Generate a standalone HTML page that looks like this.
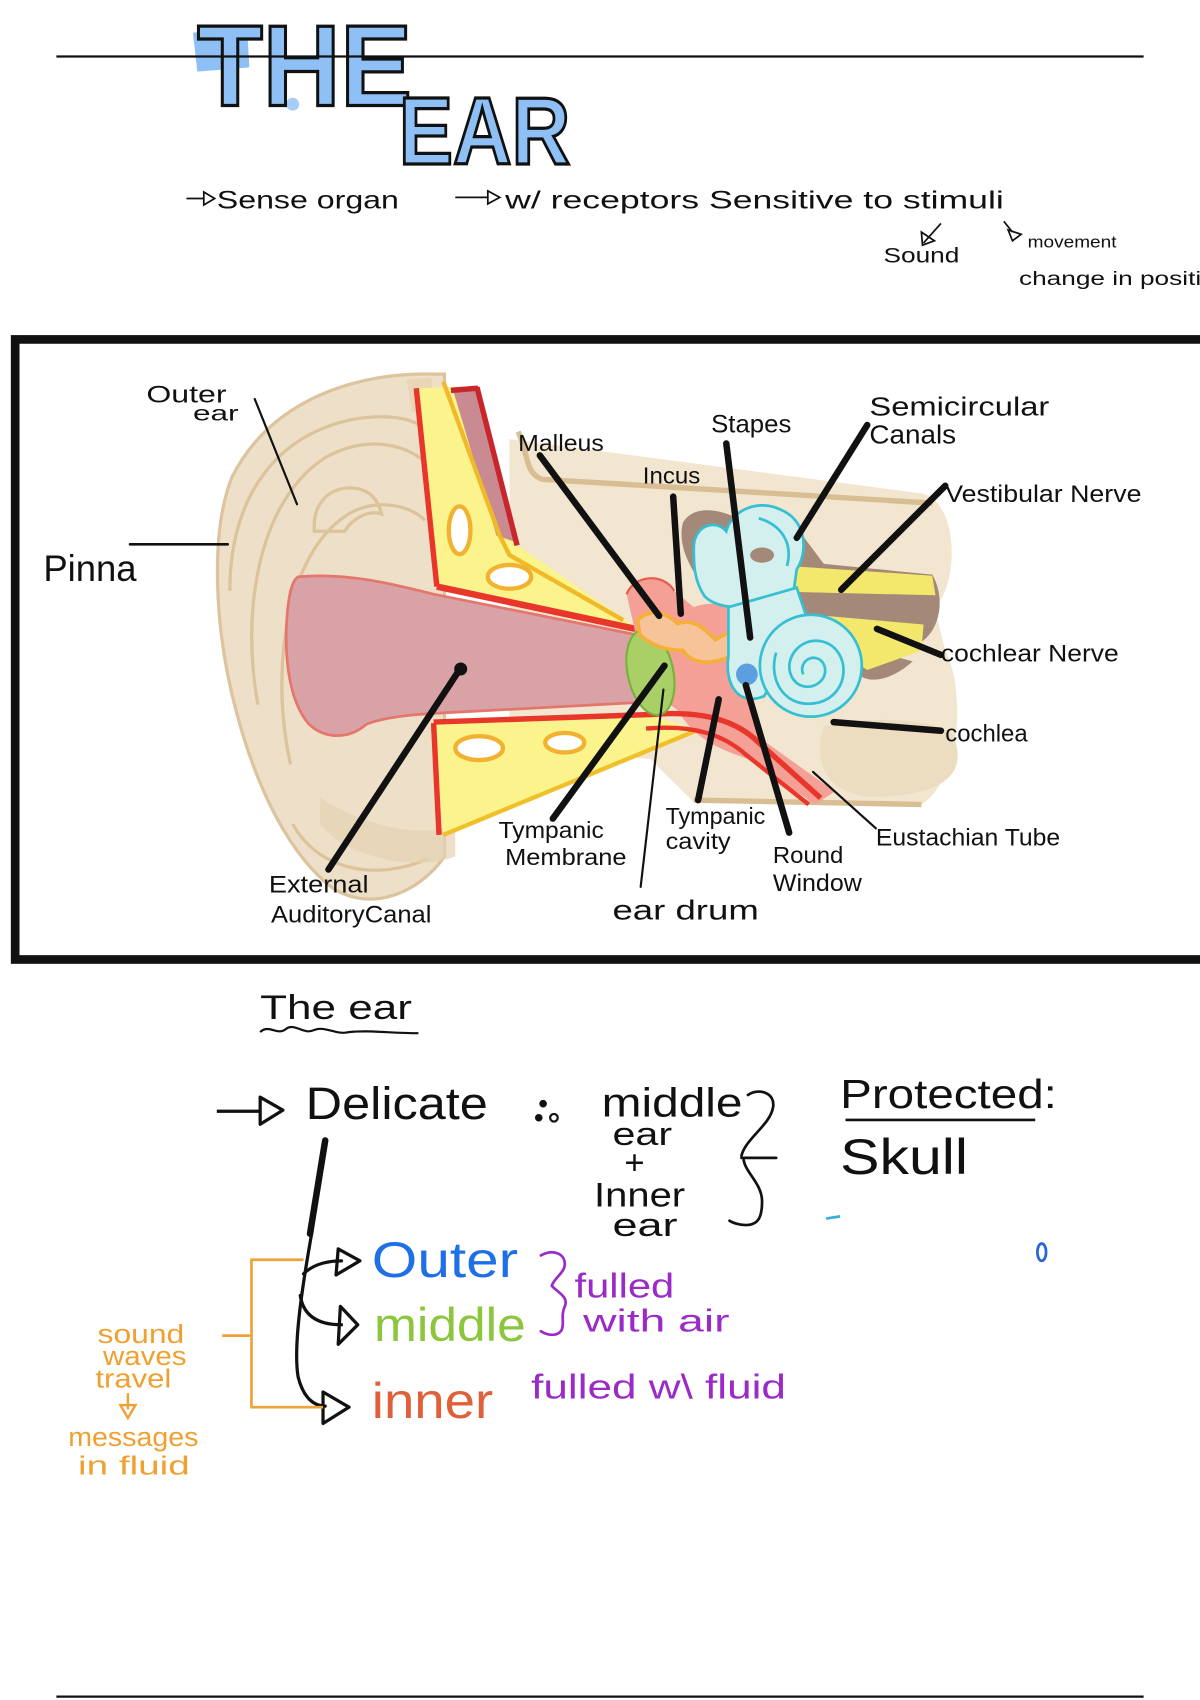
<!DOCTYPE html>
<html><head><meta charset="utf-8"><style>
html,body{margin:0;padding:0;background:#fff;}
svg{display:block;}
text{font-family:"Liberation Sans",sans-serif;}
</style></head><body>
<svg width="1200" height="1700" viewBox="0 0 1107 1568" xmlns="http://www.w3.org/2000/svg">
<rect width="1107" height="1568" fill="#fff"/>

<!-- TITLE -->
<path d="M178,30 L228,26 L230,62 L182,66 Z" fill="#8fc0f5"/>
<ellipse cx="270" cy="96" rx="6" ry="6" fill="#8fc0f5" opacity="0.8"/>
<text x="182" y="97" font-size="106" font-weight="bold" textLength="198" lengthAdjust="spacingAndGlyphs" fill="#8fc0f5" stroke="#111" stroke-width="3">THE</text>
<text x="368" y="151" font-size="88" font-weight="bold" textLength="158" lengthAdjust="spacingAndGlyphs" fill="#8fc0f5" stroke="#111" stroke-width="3">EAR</text>
<line x1="52" y1="52" x2="1055" y2="52" stroke="#111" stroke-width="2"/>

<!-- top notes -->
<g stroke="#111" stroke-width="1.6" fill="none">
<line x1="172" y1="183" x2="188" y2="183"/><path d="M188,177 L198,183 L188,189 Z"/>
<line x1="420" y1="182" x2="450" y2="182"/><path d="M450,176 L461,182 L450,188 Z"/>
<line x1="868" y1="206" x2="852" y2="224"/><path d="M850,214 L851,226 L862,222 Z"/>
<line x1="926" y1="204" x2="934" y2="214"/><path d="M930,212 L942,216 L934,222 Z"/>
</g>
<g fill="#111">
<text x="200" y="192" font-size="23" textLength="168" lengthAdjust="spacingAndGlyphs">Sense  organ</text>
<text x="466" y="192" font-size="23" textLength="460" lengthAdjust="spacingAndGlyphs">w/ receptors  Sensitive  to  stimuli</text>
<text x="815" y="242" font-size="20" textLength="70" lengthAdjust="spacingAndGlyphs">Sound</text>
<text x="948" y="228" font-size="15" textLength="82" lengthAdjust="spacingAndGlyphs">movement</text>
<text x="940" y="263" font-size="18" textLength="195" lengthAdjust="spacingAndGlyphs">change  in  position</text>
</g>

<!-- DIAGRAM BOX BG -->
<rect x="14" y="313" width="1200" height="572" fill="#fff"/>

<!-- skull background -->
<path d="M470,405 L850,455 C885,462 885,540 862,560 L872,600 C892,640 885,720 850,742 L640,740 L600,700 L470,690 Z" fill="#f2e6d1"/>
<path d="M478,398 C488,420 484,436 500,442 L860,464" stroke="#d9be94" stroke-width="5" fill="none"/>
<path d="M640,738 L850,742" stroke="#d9be94" stroke-width="5" fill="none"/>
<path d="M760,670 C800,660 870,662 880,680 C895,720 860,735 800,735 C760,730 750,700 760,670 Z" fill="#ecdcc0"/>

<!-- pinna -->
<path d="M400,345 C330,343 250,368 214,440 C194,490 197,580 219,660 C238,730 268,790 308,820 C345,842 388,822 410,790 L410,345 Z" fill="#eee0c8" stroke="#dcc49e" stroke-width="3"/>
<g stroke="#dcc39a" stroke-width="3" fill="none">
<path d="M212,545 C212,455 258,398 330,386 C365,381 385,388 396,398"/>
<path d="M238,650 C222,565 238,462 300,422 C340,400 378,410 396,430"/>
<path d="M268,705 C248,615 265,505 325,472 C350,460 378,466 392,480"/>
<path d="M290,490 C288,468 300,452 320,450 C338,449 348,458 352,474 C340,470 325,478 318,490 Z"/>
<path d="M270,760 C295,805 350,812 395,792"/>
</g>
<path d="M295,735 C330,760 390,775 420,760 L420,790 C380,805 320,790 295,760 Z" fill="#e5d2b2" opacity="0.7"/>
<path d="M375,350 L398,348 L400,380 L380,380 Z" fill="#e8d6b6"/>

<!-- ear canal -->
<path d="M275,532 C320,528 360,538 400,548 L585,585 L588,648 L400,658 C365,660 348,664 338,668 C322,682 300,682 285,668 C265,645 262,600 265,565 C267,545 270,535 275,532 Z" fill="#d8a2a7" stroke="#e5766c" stroke-width="2.5"/>

<!-- upper bone wedge -->
<path d="M384,358 L440,356 L476,502 L586,578 L403,541 Z" fill="#fbf48c"/>
<path d="M418,360 L440,357 L476,500 L458,494 Z" fill="#c98a92"/>
<line x1="440" y1="357" x2="477" y2="503" stroke="#c8262a" stroke-width="5"/>
<line x1="416" y1="360" x2="441" y2="358" stroke="#c8262a" stroke-width="5"/>
<line x1="409" y1="352" x2="461" y2="494" stroke="#f0b92a" stroke-width="4"/>
<path d="M461,494 L470,512 L575,572" stroke="#f0b92a" stroke-width="4" fill="none"/>
<line x1="384" y1="358" x2="403" y2="541" stroke="#e8362a" stroke-width="5"/>
<line x1="403" y1="541" x2="586" y2="580" stroke="#e8362a" stroke-width="6"/>
<ellipse cx="424" cy="489" rx="10" ry="22" fill="#fff" stroke="#f2b230" stroke-width="4"/>
<ellipse cx="470" cy="532" rx="20" ry="11" fill="#fff" stroke="#f2b230" stroke-width="4"/>

<!-- lower bone wedge -->
<path d="M400,667 L600,660 L642,672 L409,770 Z" fill="#fbf48c"/>
<line x1="409" y1="770" x2="642" y2="674" stroke="#f0c02a" stroke-width="4"/>
<line x1="400" y1="667" x2="405" y2="770" stroke="#e8362a" stroke-width="5"/>
<ellipse cx="442" cy="690" rx="22" ry="11" fill="#fff" stroke="#f2b230" stroke-width="4"/>
<ellipse cx="521" cy="685" rx="18" ry="9" fill="#fff" stroke="#f2b230" stroke-width="4"/>

<!-- middle ear -->
<path d="M578,548 C585,530 612,528 622,545 L640,560 C660,552 680,560 690,575 L700,600 L690,650 L700,680 L770,730 L752,742 L690,700 C660,690 640,680 625,655 L605,640 L590,600 Z" fill="#f4a096"/>
<path d="M578,548 C585,530 612,528 622,545" stroke="#ea5a4e" stroke-width="2" fill="none"/>
<path d="M400,666 L600,659 C650,655 680,665 700,685 L757,736" stroke="#e8362a" stroke-width="5" fill="none"/>
<path d="M596,672 C640,668 668,678 688,696 L746,742" stroke="#e8362a" stroke-width="4" fill="none"/>
<ellipse cx="600" cy="620" rx="21" ry="40" transform="rotate(-12 600 620)" fill="#a9d066" stroke="#78b23c" stroke-width="2"/>
<path d="M588,572 C600,560 615,565 625,575 C640,570 650,580 660,590 C675,580 695,578 700,590 C705,605 690,612 675,605 C660,612 640,615 630,600 C615,600 600,595 590,585 Z" fill="#f7c49a" stroke="#f5b03a" stroke-width="3.5"/>
<ellipse cx="688" cy="592" rx="9" ry="6" fill="none" stroke="#f5b03a" stroke-width="3"/>

<!-- inner ear -->
<path d="M630,482 C640,465 665,470 680,478 L700,470 L730,480 L760,520 L860,530 C872,550 868,580 850,592 L805,600 L842,610 C822,628 800,632 790,620 L740,562 L700,560 L650,542 C635,522 625,502 630,482 Z" fill="#a48878"/>
<path d="M728,522 L860,531 L863,549 L735,546 Z" fill="#f3e76c"/>
<path d="M762,568 L852,576 L850,600 L800,618 L772,600 Z" fill="#f3e76c"/>
<path d="M640,505 C640,485 660,478 670,490 C675,470 700,460 720,470 C745,480 745,510 735,525 L730,560 C720,575 700,570 690,560 C675,560 660,560 650,550 C640,535 640,520 640,505 Z" fill="#d3efee" stroke="#36bfd3" stroke-width="2.5"/>
<path d="M700,478 C720,484 732,500 726,522" stroke="#36bfd3" stroke-width="2.5" fill="none"/>
<ellipse cx="703" cy="512" rx="11" ry="7" fill="#a48878"/>
<path d="M672,560 L735,542 L745,572 L705,642 C682,652 668,632 672,605 Z" fill="#d3efee" stroke="#36bfd3" stroke-width="2.5"/>
<circle cx="748" cy="614" r="47" fill="#d3efee" stroke="#36bfd3" stroke-width="2.5"/>
<path d="M741,622 C736,610 751,601 759,611 C768,626 748,640 735,630 C718,615 735,585 760,592 C785,600 785,640 755,648 C725,655 708,628 716,602" stroke="#36bfd3" stroke-width="2.5" fill="none"/>
<circle cx="689" cy="622" r="10" fill="#5b9fe0"/>

<!-- leader lines -->
<g stroke="#111" stroke-linecap="round" fill="none">
<line x1="235" y1="368" x2="274" y2="465" stroke-width="2"/>
<line x1="120" y1="502" x2="210" y2="502" stroke-width="2.5"/>
<line x1="498" y1="420" x2="608" y2="568" stroke-width="6"/>
<line x1="621" y1="458" x2="628" y2="566" stroke-width="6"/>
<line x1="670" y1="409" x2="692" y2="588" stroke-width="6"/>
<line x1="800" y1="392" x2="735" y2="496" stroke-width="6"/>
<line x1="872" y1="448" x2="776" y2="544" stroke-width="6"/>
<line x1="809" y1="580" x2="868" y2="604" stroke-width="6"/>
<line x1="769" y1="666" x2="868" y2="674" stroke-width="6"/>
<line x1="750" y1="712" x2="808" y2="764" stroke-width="2"/>
<line x1="688" y1="632" x2="728" y2="768" stroke-width="6"/>
<line x1="663" y1="645" x2="644" y2="738" stroke-width="6"/>
<line x1="612" y1="636" x2="591" y2="818" stroke-width="2"/>
<line x1="613" y1="614" x2="510" y2="755" stroke-width="6"/>
<line x1="425" y1="616" x2="303" y2="802" stroke-width="6"/>
</g>
<circle cx="425" cy="617" r="6" fill="#111"/>

<!-- labels -->
<g fill="#111">
<text x="135" y="371" font-size="22" textLength="74" lengthAdjust="spacingAndGlyphs">Outer</text>
<text x="178" y="388" font-size="20" textLength="42" lengthAdjust="spacingAndGlyphs">ear</text>
<text x="40" y="536" font-size="34" textLength="86" lengthAdjust="spacingAndGlyphs">Pinna</text>
<text x="478" y="416" font-size="21" textLength="79" lengthAdjust="spacingAndGlyphs">Malleus</text>
<text x="593" y="446" font-size="21" textLength="53" lengthAdjust="spacingAndGlyphs">Incus</text>
<text x="656" y="399" font-size="23" textLength="74" lengthAdjust="spacingAndGlyphs">Stapes</text>
<text x="802" y="383" font-size="24" textLength="166" lengthAdjust="spacingAndGlyphs">Semicircular</text>
<text x="802" y="409" font-size="24" textLength="80" lengthAdjust="spacingAndGlyphs">Canals</text>
<text x="872" y="463" font-size="22" textLength="181" lengthAdjust="spacingAndGlyphs">Vestibular  Nerve</text>
<text x="868" y="610" font-size="22" textLength="164" lengthAdjust="spacingAndGlyphs">cochlear Nerve</text>
<text x="872" y="684" font-size="22" textLength="76" lengthAdjust="spacingAndGlyphs">cochlea</text>
<text x="808" y="780" font-size="22" textLength="170" lengthAdjust="spacingAndGlyphs">Eustachian Tube</text>
<text x="614" y="760" font-size="21" textLength="92" lengthAdjust="spacingAndGlyphs">Tympanic</text>
<text x="614" y="783" font-size="21" textLength="60" lengthAdjust="spacingAndGlyphs">cavity</text>
<text x="713" y="796" font-size="21" textLength="65" lengthAdjust="spacingAndGlyphs">Round</text>
<text x="713" y="822" font-size="22" textLength="82" lengthAdjust="spacingAndGlyphs">Window</text>
<text x="460" y="773" font-size="21" textLength="97" lengthAdjust="spacingAndGlyphs">Tympanic</text>
<text x="466" y="798" font-size="21" textLength="112" lengthAdjust="spacingAndGlyphs">Membrane</text>
<text x="565" y="848" font-size="26" textLength="135" lengthAdjust="spacingAndGlyphs">ear drum</text>
<text x="248" y="823" font-size="22" textLength="92" lengthAdjust="spacingAndGlyphs">External</text>
<text x="250" y="851" font-size="22" textLength="148" lengthAdjust="spacingAndGlyphs">AuditoryCanal</text>
</g>

<!-- box border -->
<rect x="14" y="313" width="1200" height="572" fill="none" stroke="#111" stroke-width="8"/>

<!-- LOWER SECTION -->
<text x="240" y="940" font-size="32" textLength="140" lengthAdjust="spacingAndGlyphs" fill="#111">The  ear</text>
<path d="M240,952 C248,944 256,956 264,949 C272,943 280,955 290,950 C300,946 310,955 322,952 C340,950 360,953 386,953" stroke="#111" stroke-width="2" fill="none"/>

<g stroke="#111" stroke-width="3" fill="none" stroke-linejoin="round">
<line x1="200" y1="1025" x2="240" y2="1025"/>
<path d="M240,1012 L261,1024 L240,1037 Z"/>
</g>
<g fill="#111">
<text x="282" y="1032" font-size="42" textLength="168" lengthAdjust="spacingAndGlyphs">Delicate</text>
<circle cx="501" cy="1018" r="3.5"/><circle cx="497" cy="1031" r="3.5"/>
<circle cx="511" cy="1031" r="3.5" fill="none" stroke="#111" stroke-width="2"/>
<text x="555" y="1030" font-size="38" textLength="130" lengthAdjust="spacingAndGlyphs">middle</text>
<text x="565" y="1056" font-size="30" textLength="55" lengthAdjust="spacingAndGlyphs">ear</text>
<text x="576" y="1083" font-size="32">+</text>
<text x="548" y="1113" font-size="32" textLength="84" lengthAdjust="spacingAndGlyphs">Inner</text>
<text x="565" y="1140" font-size="30" textLength="60" lengthAdjust="spacingAndGlyphs">ear</text>
<text x="775" y="1022" font-size="38" textLength="200" lengthAdjust="spacingAndGlyphs">Protected:</text>
<text x="775" y="1083" font-size="46" textLength="118" lengthAdjust="spacingAndGlyphs">Skull</text>
</g>
<path d="M690,1010 C700,1003 716,1008 713,1022 C710,1038 688,1050 684,1066 M684,1068 L716,1068 M686,1070 C688,1082 703,1092 703,1108 C703,1122 700,1130 688,1130 C682,1130 676,1128 673,1126" stroke="#111" stroke-width="2.5" fill="none" stroke-linecap="round"/>
<line x1="780" y1="1033" x2="955" y2="1033" stroke="#111" stroke-width="2.5"/>
<line x1="762" y1="1124" x2="775" y2="1122" stroke="#3ab0d8" stroke-width="2.5"/>
<ellipse cx="961" cy="1155" rx="4" ry="8" fill="none" stroke="#2366d6" stroke-width="2.5"/>

<!-- tree -->
<g stroke="#111" fill="none" stroke-linecap="round" stroke-linejoin="round">
<line x1="300" y1="1052" x2="286" y2="1138" stroke-width="6"/>
<path d="M288,1135 C280,1180 270,1240 275,1270 C280,1290 290,1297 300,1297" stroke-width="3"/>
<path d="M280,1175 C290,1165 305,1163 315,1163" stroke-width="3"/>
<path d="M277,1195 C280,1215 295,1222 315,1222" stroke-width="3"/>
<path d="M312,1152 L332,1163 L310,1176 Z" stroke-width="3"/>
<path d="M314,1205 L330,1222 L312,1240 Z" stroke-width="3"/>
<path d="M298,1284 L322,1298 L298,1313 Z" stroke-width="3"/>
</g>
<text x="343" y="1178" font-size="46" textLength="135" lengthAdjust="spacingAndGlyphs" fill="#1f6fe5">Outer</text>
<text x="345" y="1237" font-size="44" textLength="140" lengthAdjust="spacingAndGlyphs" fill="#8cc63c">middle</text>
<text x="343" y="1308" font-size="46" textLength="112" lengthAdjust="spacingAndGlyphs" fill="#e0603a">inner</text>

<path d="M499,1158 C510,1152 521,1156 521,1166 C521,1174 511,1179 509,1186 C514,1192 525,1196 521,1205 C517,1214 521,1221 518,1227 C514,1233 505,1232 499,1228" stroke="#9a2bc7" stroke-width="2.5" fill="none" stroke-linecap="round"/>
<g fill="#9a2bc7">
<text x="530" y="1197" font-size="32" textLength="92" lengthAdjust="spacingAndGlyphs">fulled</text>
<text x="538" y="1228" font-size="29" textLength="135" lengthAdjust="spacingAndGlyphs">with air</text>
<text x="490" y="1290" font-size="32" textLength="235" lengthAdjust="spacingAndGlyphs">fulled  w\  fluid</text>
</g>

<!-- orange bracket -->
<path d="M280,1162 L232,1162 L232,1298 L298,1298 M205,1232 L232,1232" stroke="#f0a23a" stroke-width="2.5" fill="none"/>
<g fill="#f0a030">
<text x="90" y="1239" font-size="24" textLength="80" lengthAdjust="spacingAndGlyphs">sound</text>
<text x="95" y="1259" font-size="24" textLength="77" lengthAdjust="spacingAndGlyphs">waves</text>
<text x="88" y="1280" font-size="24" textLength="70" lengthAdjust="spacingAndGlyphs">travel</text>
<text x="63" y="1334" font-size="24" textLength="120" lengthAdjust="spacingAndGlyphs">messages</text>
<text x="72" y="1360" font-size="24" textLength="103" lengthAdjust="spacingAndGlyphs">in  fluid</text>
</g>
<path d="M118,1285 L118,1300 M111,1296 L118,1308 L125,1296 Z" stroke="#f0a030" stroke-width="2.2" fill="none"/>

<line x1="52" y1="1565" x2="1055" y2="1565" stroke="#111" stroke-width="2"/>
</svg>
</body></html>
